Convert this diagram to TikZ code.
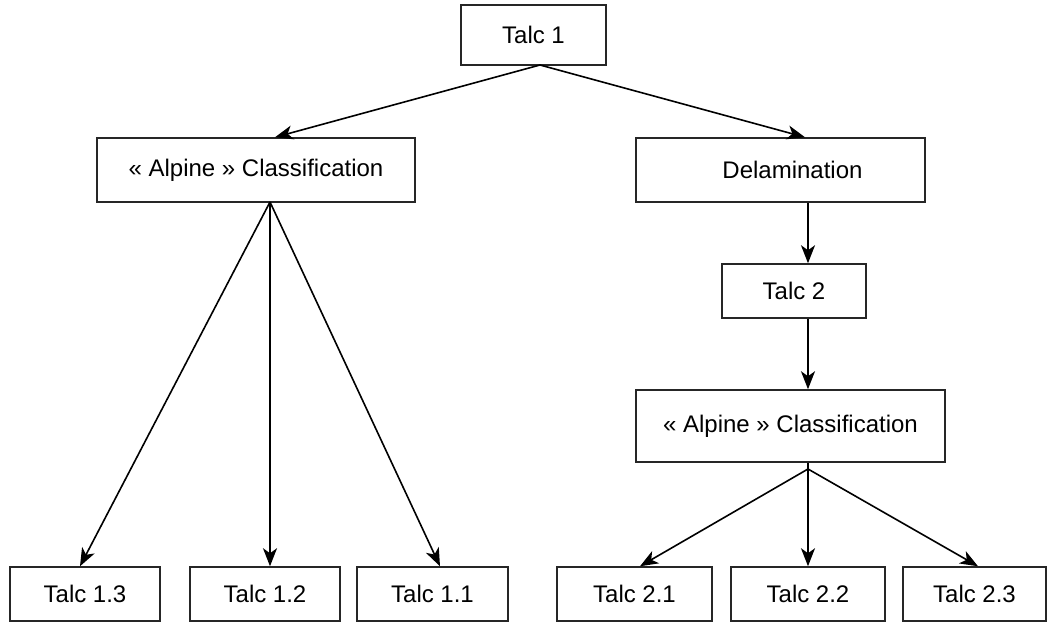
\documentclass[tikz,border=0pt]{standalone}
\usepackage{fontspec}
\setmainfont{Liberation Sans}
\usetikzlibrary{arrows.meta}
\begin{document}
\begin{tikzpicture}[x=1pt,y=-1pt,
  box/.style={draw=black!85,line width=1.5pt,rectangle,inner sep=0pt,font=\fontsize{24}{28}\selectfont},
  arr/.style={line width=1.6pt,-{Stealth[length=18pt,width=14pt,inset=5pt]}},
  ln/.style={line width=1.6pt}]
\useasboundingbox (0,0) rectangle (1050,623);
\node[box,minimum width=145pt,minimum height=60pt] (talc1) at (533.5,35) {Talc 1};
\node[box,minimum width=318pt,minimum height=64pt] (alpL) at (256,170) {« Alpine » Classification};
\node[box,minimum width=289pt,minimum height=64pt] (delam) at (780.5,170) {\hspace*{24pt}Delamination};
\node[box,minimum width=144pt,minimum height=54pt] (talc2) at (794,291) {Talc 2};
\node[box,minimum width=309pt,minimum height=72pt] (alpR) at (790.5,426) {\raisebox{4pt}{« Alpine » Classification}};
\node[box,minimum width=150pt,minimum height=54pt] (t13) at (85,594) {Talc 1.3};
\node[box,minimum width=150pt,minimum height=54pt] (t12) at (265,594) {Talc 1.2};
\node[box,minimum width=151pt,minimum height=54pt] (t11) at (432.5,594) {Talc 1.1};
\node[box,minimum width=155pt,minimum height=54pt] (t21) at (634.5,594) {Talc 2.1};
\node[box,minimum width=154pt,minimum height=54pt] (t22) at (808,594) {Talc 2.2};
\node[box,minimum width=143pt,minimum height=54pt] (t23) at (974.5,594) {Talc 2.3};
\coordinate (topA) at (540,65);
\coordinate (apL) at (270,202);
\coordinate (apR) at (808,469);
\draw[arr] (topA) -- ([xshift=19pt]alpL.north);
\draw[arr] (topA) -- ([xshift=24.5pt]delam.north);
\draw[arr] ([xshift=27.5pt]delam.south) -- ([xshift=14pt]talc2.north);
\draw[arr] ([xshift=14pt]talc2.south) -- ([xshift=17.5pt]alpR.north);
\draw[arr] (apL) -- ([xshift=-5pt]t13.north);
\draw[arr] (apL) -- ([xshift=5pt]t12.north);
\draw[arr] (apL) -- ([xshift=7.5pt]t11.north);
\draw[ln] ([xshift=17.5pt]alpR.south) -- (apR);
\draw[arr] (apR) -- ([xshift=5.5pt]t21.north);
\draw[arr] (apR) -- (t22.north);
\draw[arr] (apR) -- ([xshift=3.5pt]t23.north);
\end{tikzpicture}
\end{document}
